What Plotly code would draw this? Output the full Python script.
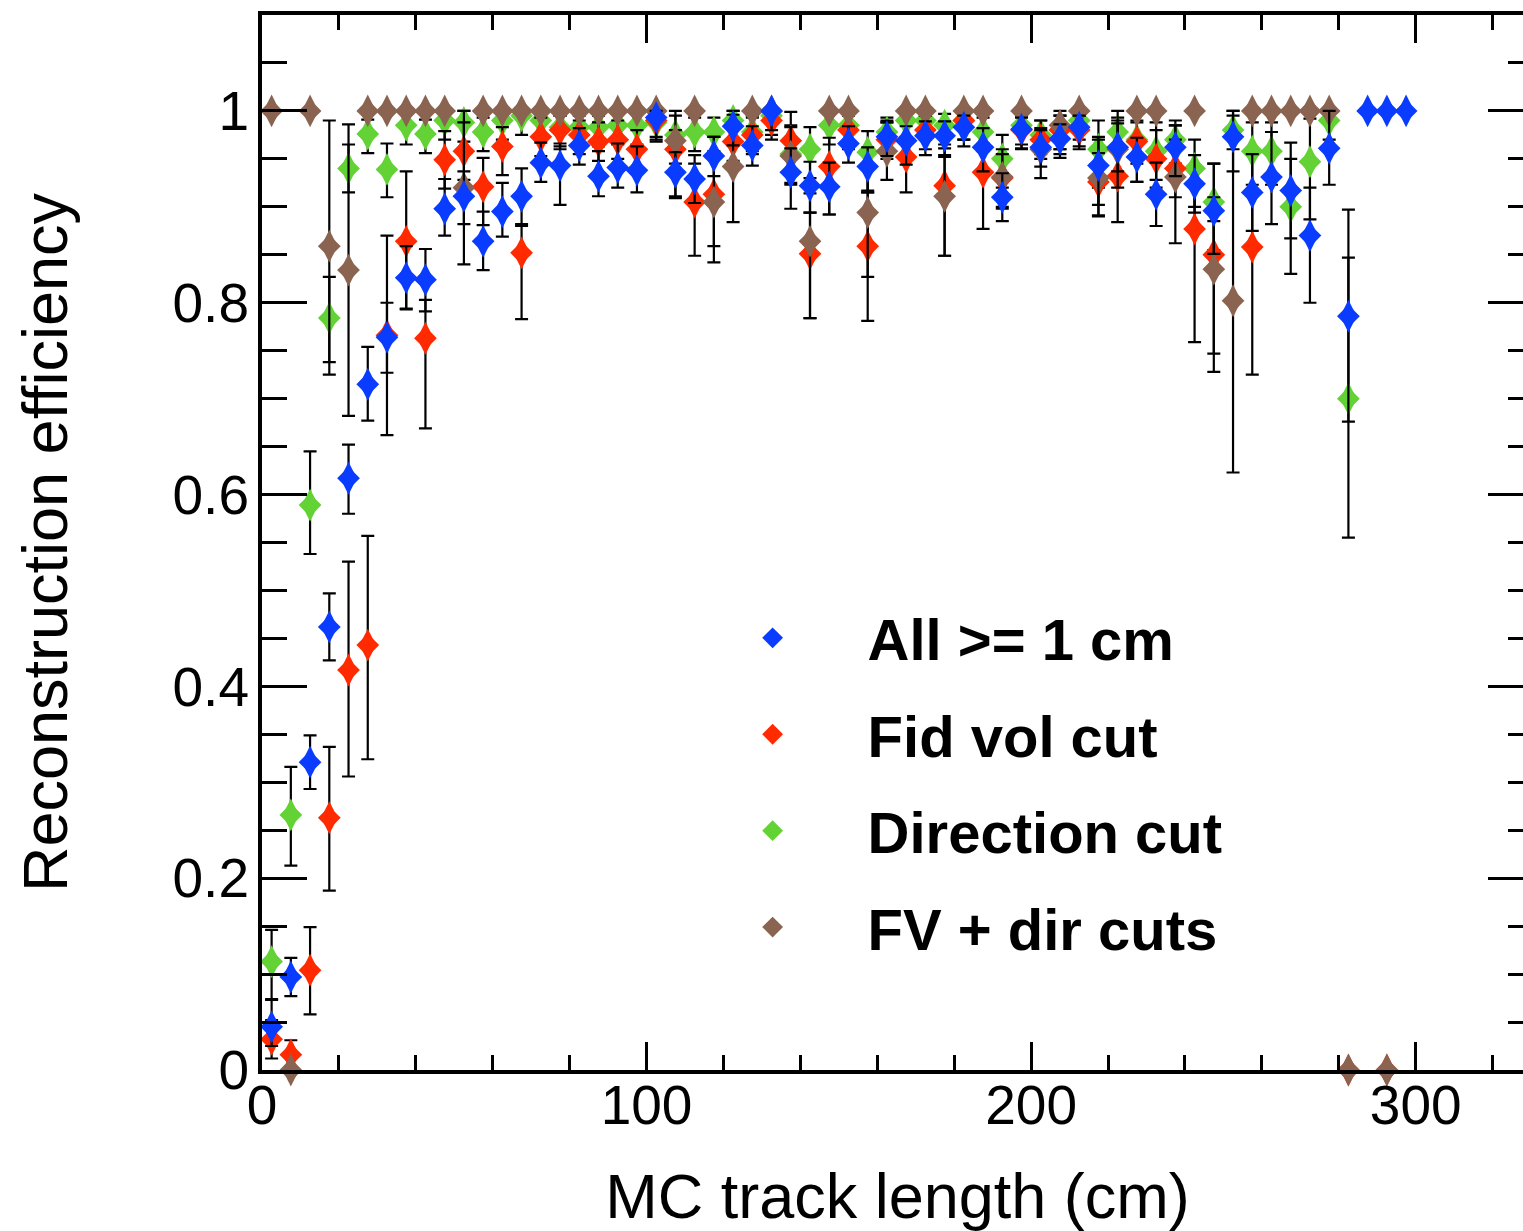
import plotly.graph_objects as go

# 5 cm bins of true (MC) track length, bin centres in cm
track_length_cm = [
    2.5, 7.5, 12.5, 17.5, 22.5, 27.5, 32.5, 37.5, 42.5, 47.5,
    52.5, 57.5, 62.5, 67.5, 72.5, 77.5, 82.5, 87.5, 92.5, 97.5,
    102.5, 107.5, 112.5, 117.5, 122.5, 127.5, 132.5, 137.5, 142.5, 147.5,
    152.5, 157.5, 162.5, 167.5, 172.5, 177.5, 182.5, 187.5, 192.5, 197.5,
    202.5, 207.5, 212.5, 217.5, 222.5, 227.5, 232.5, 237.5, 242.5, 247.5,
    252.5, 257.5, 262.5, 267.5, 272.5, 277.5, 282.5, 287.5, 292.5, 297.5,
]

# --- All tracks >= 1 cm ---
eff_all = [
    0.045, 0.097, 0.321, 0.462, 0.617, 0.715, 0.764, 0.826, 0.824, 0.898,
    0.911, 0.864, 0.895, 0.911, 0.946, 0.943, 0.964, 0.932, 0.941, 0.938,
    0.993, 0.936, 0.929, 0.953, 0.984, 0.964, 1.0, 0.936, 0.922, 0.921,
    0.966, 0.942, 0.973, 0.969, 0.974, 0.974, 0.983, 0.962, 0.910, 0.981,
    0.962, 0.971, 0.983, 0.943, 0.962, 0.952, 0.913, 0.962, 0.924, 0.896,
    0.973, 0.915, 0.931, 0.917, 0.870, 0.961, 0.786, 1.0, 1.0, 1.0,
]
eff_all_hi = [
    0.028, 0.020, 0.028, 0.035, 0.035, 0.039, 0.036, 0.033, 0.032, 0.031,
    0.026, 0.031, 0.030, 0.029, 0.021, 0.023, 0.018, 0.026, 0.025, 0.025,
    0.007, 0.021, 0.025, 0.020, 0.012, 0.020, 0.0, 0.025, 0.025, 0.025,
    0.018, 0.020, 0.015, 0.015, 0.015, 0.015, 0.012, 0.020, 0.025, 0.012,
    0.020, 0.015, 0.012, 0.030, 0.025, 0.020, 0.033, 0.023, 0.030, 0.049,
    0.027, 0.040, 0.047, 0.050, 0.050, 0.039, 0.061, 0.0, 0.0, 0.0,
]
eff_all_lo = [
    0.020, 0.020, 0.028, 0.035, 0.037, 0.038, 0.037, 0.033, 0.033, 0.028,
    0.029, 0.030, 0.026, 0.031, 0.020, 0.041, 0.020, 0.021, 0.021, 0.023,
    0.020, 0.025, 0.025, 0.021, 0.020, 0.021, 0.020, 0.038, 0.028, 0.029,
    0.020, 0.027, 0.020, 0.025, 0.020, 0.020, 0.020, 0.025, 0.025, 0.020,
    0.020, 0.020, 0.020, 0.041, 0.025, 0.026, 0.033, 0.030, 0.030, 0.045,
    0.036, 0.040, 0.049, 0.050, 0.070, 0.038, 0.110, 0.0, 0.0, 0.0,
]

# --- Fiducial volume cut ---
eff_fv = [
    0.032, 0.016, 0.104, 0.263, 0.417, 0.443, 0.766, 0.864, 0.763, 0.949,
    0.958, 0.921, 0.963, 0.852, 0.973, 0.980, 0.975, 0.968, 0.970, 0.960,
    0.990, 0.960, 0.905, 0.913, 0.968, 0.975, 0.990, 0.969, 0.851, 0.942,
    0.980, 0.859, 0.970, 0.952, 0.980, 0.922, 0.990, 0.936, 0.930, 0.980,
    0.970, 0.980, 0.980, 0.926, 0.932, 0.968, 0.950, 0.940, 0.877, 0.850,
    None, 0.858, None, None, None, None, 0.0, None, 0.0, None,
]
eff_fv_hi = [
    0.020, 0.015, 0.045, 0.074, 0.113, 0.114, 0.104, 0.073, 0.040, 0.030,
    0.030, 0.030, 0.020, 0.030, 0.020, 0.015, 0.015, 0.020, 0.020, 0.020,
    0.010, 0.020, 0.040, 0.040, 0.020, 0.020, 0.010, 0.030, 0.043, 0.030,
    0.015, 0.056, 0.020, 0.020, 0.015, 0.030, 0.010, 0.030, 0.030, 0.015,
    0.020, 0.015, 0.015, 0.030, 0.068, 0.020, 0.030, 0.030, 0.050, 0.060,
    None, 0.060, None, None, None, None, 0.0, None, 0.0, None,
]
eff_fv_lo = [
    0.020, 0.015, 0.046, 0.076, 0.111, 0.119, 0.104, 0.070, 0.094, 0.030,
    0.030, 0.040, 0.030, 0.069, 0.020, 0.020, 0.020, 0.020, 0.020, 0.020,
    0.020, 0.020, 0.056, 0.054, 0.020, 0.020, 0.020, 0.030, 0.067, 0.050,
    0.020, 0.078, 0.020, 0.037, 0.020, 0.073, 0.020, 0.059, 0.030, 0.020,
    0.020, 0.020, 0.020, 0.035, 0.048, 0.042, 0.030, 0.030, 0.118, 0.103,
    None, 0.133, None, None, None, None, 0.0, None, 0.0, None,
]

# --- Direction cut ---
eff_dir = [
    0.113, 0.266, 0.589, 0.784, 0.940, 0.976, 0.939, 0.985, 0.976, 0.990,
    0.988, 0.978, 0.990, 0.995, 0.990, 0.983, 0.983, 0.983, 0.985, 0.985,
    0.988, 0.975, 0.978, 0.978, 0.990, 0.978, 0.995, 0.955, 0.960, 0.985,
    0.985, 0.957, 0.978, 0.990, 0.990, 0.985, 0.990, 0.978, 0.950, 0.985,
    0.975, 0.980, 0.990, 0.960, 0.978, 0.970, 0.958, 0.970, 0.940, 0.905,
    0.980, 0.958, 0.958, 0.900, 0.947, 0.990, 0.700, None, None, None,
]
eff_dir_hi = [
    0.033, 0.050, 0.056, 0.043, 0.025, 0.015, 0.027, 0.012, 0.015, 0.010,
    0.012, 0.015, 0.010, 0.005, 0.010, 0.012, 0.012, 0.012, 0.012, 0.012,
    0.012, 0.020, 0.015, 0.015, 0.010, 0.015, 0.005, 0.030, 0.023, 0.012,
    0.012, 0.022, 0.015, 0.010, 0.010, 0.012, 0.010, 0.015, 0.025, 0.012,
    0.015, 0.015, 0.010, 0.030, 0.015, 0.020, 0.030, 0.020, 0.030, 0.040,
    0.015, 0.030, 0.030, 0.050, 0.045, 0.010, 0.197, None, None, None,
]
eff_dir_lo = [
    0.039, 0.053, 0.051, 0.046, 0.025, 0.020, 0.029, 0.020, 0.020, 0.020,
    0.020, 0.020, 0.020, 0.020, 0.020, 0.020, 0.020, 0.020, 0.020, 0.020,
    0.020, 0.030, 0.020, 0.020, 0.020, 0.020, 0.020, 0.030, 0.030, 0.020,
    0.020, 0.040, 0.020, 0.020, 0.020, 0.020, 0.020, 0.020, 0.030, 0.020,
    0.020, 0.020, 0.020, 0.040, 0.020, 0.025, 0.030, 0.025, 0.040, 0.050,
    0.020, 0.035, 0.035, 0.070, 0.060, 0.020, 0.145, None, None, None,
]

# --- Fiducial volume + direction cuts ---
eff_fv_dir = [
    1.0, 0.0, 1.0, 0.859, 0.834, 1.0, 1.0, 1.0, 1.0, 1.0,
    0.920, 1.0, 1.0, 1.0, 1.0, 1.0, 1.0, 1.0, 1.0, 1.0,
    1.0, 0.969, 1.0, 0.905, 0.942, 1.0, 1.0, 0.953, 0.864, 1.0,
    1.0, 0.894, 0.958, 1.0, 1.0, 0.911, 1.0, 1.0, 0.931, 1.0,
    0.960, 0.985, 1.0, 0.930, 0.960, 1.0, 1.0, 0.931, 1.0, 0.835,
    0.802, 1.0, 1.0, 1.0, 1.0, 1.0, 0.0, None, 0.0, None,
]
eff_fv_dir_hi = [
    0.0, 0.0, 0.0, 0.131, 0.152, 0.0, 0.0, 0.0, 0.0, 0.0,
    0.080, 0.0, 0.0, 0.0, 0.0, 0.0, 0.0, 0.0, 0.0, 0.0,
    0.0, 0.031, 0.0, 0.068, 0.058, 0.0, 0.0, 0.030, 0.050, 0.0,
    0.0, 0.050, 0.030, 0.0, 0.0, 0.050, 0.0, 0.0, 0.024, 0.0,
    0.020, 0.015, 0.0, 0.040, 0.030, 0.0, 0.0, 0.054, 0.0, 0.050,
    0.198, 0.0, 0.0, 0.0, 0.0, 0.0, 0.0, None, 0.0, None,
]
eff_fv_dir_lo = [
    0.0, 0.0, 0.0, 0.134, 0.152, 0.0, 0.0, 0.0, 0.0, 0.0,
    0.080, 0.0, 0.0, 0.0, 0.0, 0.0, 0.0, 0.0, 0.0, 0.0,
    0.0, 0.060, 0.0, 0.063, 0.058, 0.0, 0.0, 0.030, 0.080, 0.0,
    0.0, 0.067, 0.030, 0.0, 0.0, 0.062, 0.0, 0.0, 0.033, 0.0,
    0.030, 0.030, 0.0, 0.040, 0.040, 0.0, 0.0, 0.069, 0.0, 0.107,
    0.179, 0.0, 0.0, 0.0, 0.0, 0.0, 0.0, None, 0.0, None,
]

series_names = ["All >= 1 cm", "Fid vol cut", "Direction cut", "FV + dir cuts"]
series_colors = ["#0a3cff", "#ff2a00", "#62d234", "#8a6450"]
series_values = [eff_all, eff_fv, eff_dir, eff_fv_dir]
series_hi = [eff_all_hi, eff_fv_hi, eff_dir_hi, eff_fv_dir_hi]
series_lo = [eff_all_lo, eff_fv_lo, eff_dir_lo, eff_fv_dir_lo]

# painting order (bottom -> top); legend order is kept by legendrank
draw_order = [2, 1, 3, 0]

FONT = "Liberation Sans, Arial, Helvetica, sans-serif"

fig = go.Figure()
for i in draw_order:
    # ROOT-like full diamond (2:3 aspect) built from a tall diamond
    # overlaid with a regular one of the same colour
    fig.add_trace(go.Scatter(
        x=track_length_cm, y=series_values[i],
        mode="markers",
        marker=dict(symbol="diamond-tall", size=23.5, color=series_colors[i],
                    line=dict(width=0)),
        error_y=dict(type="data", symmetric=False,
                     array=series_hi[i], arrayminus=series_lo[i],
                     color="black", thickness=2.2, width=6.5),
        cliponaxis=False,
        legendgroup=series_names[i], showlegend=False,
        name=series_names[i], hoverinfo="skip",
    ))
    fig.add_trace(go.Scatter(
        x=track_length_cm, y=series_values[i],
        mode="markers",
        marker=dict(symbol="diamond", size=17.5, color=series_colors[i],
                    line=dict(width=0)),
        cliponaxis=False,
        legendgroup=series_names[i], legendrank=i + 1,
        name=series_names[i],
    ))

axis_common = dict(
    showline=True, linewidth=4, linecolor="black", mirror="allticks",
    ticks="inside", tickcolor="black", tickwidth=2.5,
    showgrid=False, zeroline=False,
    tickfont=dict(family=FONT, size=55, color="black"),
)

fig.update_xaxes(
    **axis_common,
    range=[0, 330.5], tick0=0, dtick=100, ticklen=28,
    minor=dict(ticks="inside", dtick=20, ticklen=15, tickwidth=2.5,
               tickcolor="black", showgrid=False),
    title=dict(text="MC track length (cm)",
               font=dict(family=FONT, size=63, color="black"), standoff=40),
    ticklabelstandoff=-16,
)
fig.update_yaxes(
    **axis_common,
    range=[0, 1.1], tick0=0, dtick=0.2, ticklen=45,
    minor=dict(ticks="inside", dtick=0.05, ticklen=25, tickwidth=2.5,
               tickcolor="black", showgrid=False),
    title=dict(text="Reconstruction efficiency",
               font=dict(family=FONT, size=63, color="black"), standoff=85),
    ticklabelstandoff=-2,
)

fig.update_layout(
    width=1545, height=1231,
    margin=dict(l=262, r=12, t=15, b=161, autoexpand=False),
    plot_bgcolor="white", paper_bgcolor="white",
    font=dict(family=FONT, color="black"),
    showlegend=True,
    legend=dict(
        x=0.327, y=0.4515, xanchor="left", yanchor="top",
        xref="paper", yref="paper",
        bgcolor="rgba(0,0,0,0)", borderwidth=0,
        font=dict(family=FONT, size=58, color="black", weight="bold"),
        itemwidth=180, traceorder="grouped", tracegroupgap=18,
        itemclick=False, itemdoubleclick=False,
    ),
)

fig.write_html(
    "out.html",
    post_script="document.documentElement.style.overflow='hidden';"
                "document.body.style.overflow='hidden';",
)
